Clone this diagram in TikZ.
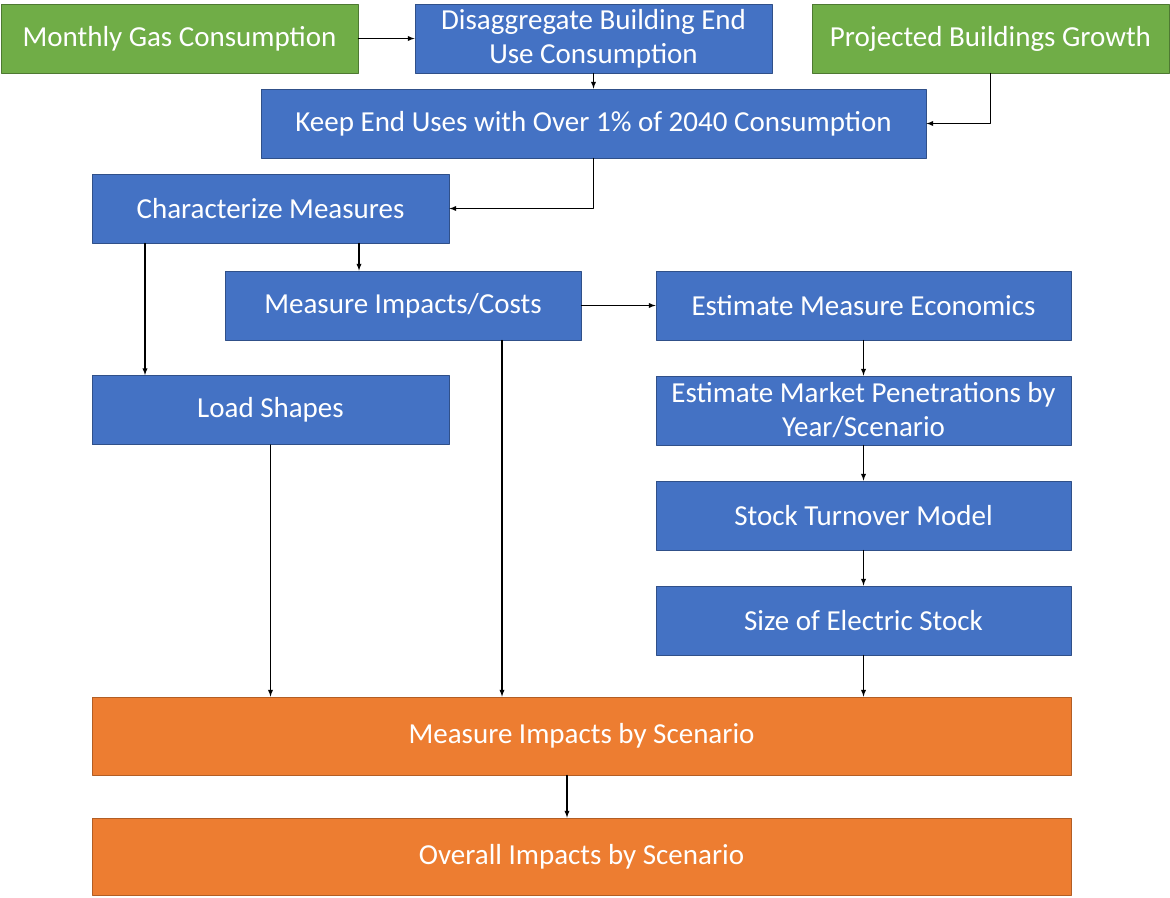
\documentclass[tikz,border=0pt]{standalone}
\usepackage{fontspec}
\setmainfont{Carlito}
\usetikzlibrary{arrows}

\definecolor{boxgreen}{HTML}{70AD47}
\definecolor{boxblue}{HTML}{4472C4}
\definecolor{boxorange}{HTML}{ED7D31}

\tikzset{
	box/.style={draw, line width=0.8pt, text=white, align=center, inner sep=0pt,
		minimum height=69pt, font=\fontsize{29}{34}\selectfont},
	greenbox/.style={box, fill=boxgreen, draw=boxgreen!70!black, minimum width=357pt},
	bluebox/.style={box, fill=boxblue, draw=boxblue!70!black},
	orangebox/.style={box, fill=boxorange, draw=boxorange!75!black, minimum width=979pt},
	flow/.style={-latex, line width=1.3pt}
}

\begin{document}
\begin{tikzpicture}[x=1pt,y=-1pt,line cap=round,line join=round]
			\useasboundingbox (0,0) rectangle (1170,897);
			
			% inputs
			\node[greenbox] (monthly) at (179.5,38.5) {Monthly Gas Consumption};
			\node[bluebox, minimum width=357pt] (disagg) at (593.5,38.5) {Disaggregate Building End\\Use Consumption};
			\node[greenbox] (growth) at (990.5,38.5) {Projected Buildings Growth};
			\node[bluebox, minimum width=665pt] (keep) at (593.5,123.5) {Keep End Uses with Over 1\% of 2040 Consumption};
			
			% measures
			\node[bluebox, minimum width=357pt] (charact) at (270.5,208.5) {Characterize Measures};
			\node[bluebox, minimum width=356pt] (impcost) at (403,305.5) {Measure Impacts/Costs};
			\node[bluebox, minimum width=357pt] (loadshp) at (270.5,410) {Load Shapes};
			
			% economics chain
			\node[bluebox, minimum width=415pt] (econ) at (863.5,305.5) {Estimate Measure Economics};
			\node[bluebox, minimum width=415pt] (market) at (863.5,410.5) {Estimate Market Penetrations by\\Year/Scenario};
			\node[bluebox, minimum width=415pt] (turnover) at (863.5,515.5) {Stock Turnover Model};
			\node[bluebox, minimum width=415pt] (elecstock) at (863.5,620.5) {Size of Electric Stock};
			
			% results
			\node[orangebox, minimum height=78pt] (scenimp) at (581.5,736) {Measure Impacts by Scenario};
			\node[orangebox, minimum height=77pt] (overall) at (581.5,856.5) {Overall Impacts by Scenario};
			
			\draw[flow] (monthly) -- (disagg);
			\draw[flow] (disagg) -- (keep);
			\draw[flow] (growth.south) |- (keep.east);
			\draw[flow] (keep.south) |- (charact.east);
			\draw[flow] ([xshift=88.5pt]charact.south) -- ([xshift=88.5pt]charact.south |- impcost.north);
			\draw[flow] ([xshift=-125.5pt]charact.south) -- ([xshift=-125.5pt]charact.south |- loadshp.north);
			\draw[flow] (impcost) -- (econ);
			\draw[flow] ([xshift=99pt]impcost.south) -- ([xshift=99pt]impcost.south |- scenimp.north);
			\draw[flow] (loadshp.south) -- (loadshp.south |- scenimp.north);
			\draw[flow] (econ) -- (market);
			\draw[flow] (market) -- (turnover);
			\draw[flow] (turnover) -- (elecstock);
			\draw[flow] (elecstock.south) -- (elecstock.south |- scenimp.north);
			\draw[flow] ([xshift=-14.5pt]scenimp.south) -- ([xshift=-14.5pt]scenimp.south |- overall.north);
%			\draw[help lines] (0,0) grid[step=100] (1170,897);
		\end{tikzpicture}
\end{document}
